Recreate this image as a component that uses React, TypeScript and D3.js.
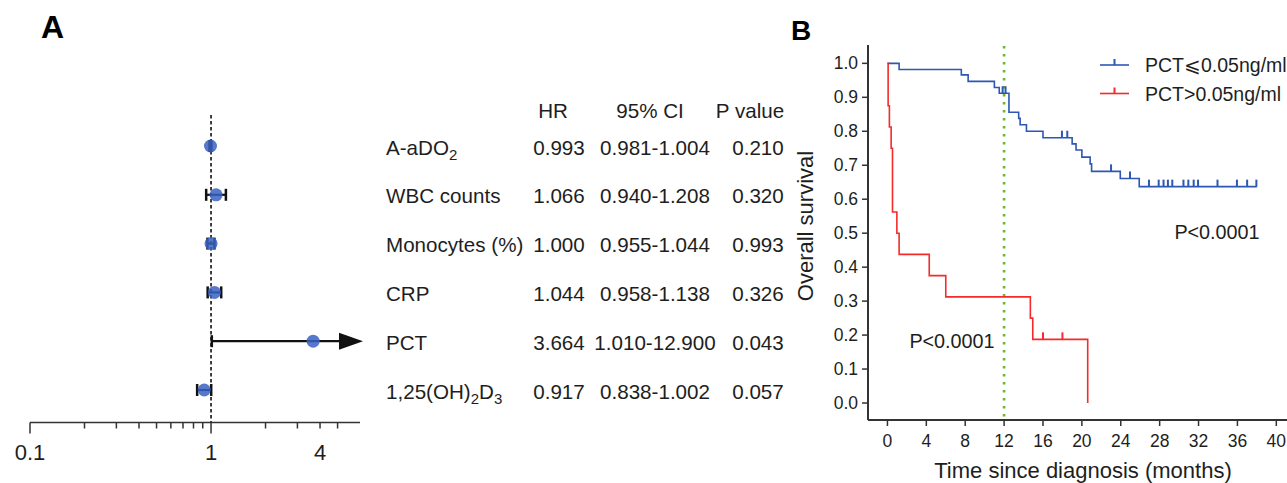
import * as d3 from "d3";

const FONT = "'Liberation Sans', Arial, sans-serif";

// ---- panel A: multivariate Cox forest plot ----
const factors = ["A-aDO_2", "WBC counts", "Monocytes (%)", "CRP", "PCT", "1,25(OH)_2D_3"];
const hr = [0.993, 1.066, 1.0, 1.044, 3.664, 0.917];
const ciLow = [0.981, 0.94, 0.955, 0.958, 1.01, 0.838];
const ciHigh = [1.004, 1.208, 1.044, 1.138, 12.9, 1.002];
const hrText = ["0.993", "1.066", "1.000", "1.044", "3.664", "0.917"];
const ciText = ["0.981-1.004", "0.940-1.208", "0.955-1.044", "0.958-1.138", "1.010-12.900", "0.838-1.002"];
const pText = ["0.210", "0.320", "0.993", "0.326", "0.043", "0.057"];
const tableHeads = ["HR", "95% CI", "P value"];
const forestTicks = [0.1, 0.2, 0.3, 0.4, 0.5, 0.6, 0.7, 0.8, 0.9, 1, 2, 3, 4, 5];
const forestMajor = [0.1, 1];
const forestLabels = [0.1, 1, 4];

// ---- panel B: Kaplan-Meier ----
const lowTime = [0, 1.2, 7.6, 8.3, 11.0, 11.5, 12.5, 13.5, 13.65, 14.3, 16.0, 19.0, 19.4, 20.0, 20.85, 21.0, 23.95, 25.9, 38.0];
const lowSurv = [1.0, 0.982, 0.966, 0.947, 0.929, 0.912, 0.856, 0.838, 0.819, 0.8, 0.781, 0.763, 0.745, 0.724, 0.704, 0.682, 0.661, 0.637, 0.637];
const lowCensor = [11.85, 12.15, 17.95, 18.5, 23.0, 24.95, 26.9, 27.9, 28.4, 28.85, 29.3, 30.45, 30.95, 31.5, 31.95, 33.95, 35.95, 37.0, 37.95];
const highTime = [0, 0.07, 0.2, 0.38, 0.52, 0.97, 1.2, 4.3, 6.0, 14.7, 14.95, 20.6];
const highSurv = [1.0, 0.875, 0.8125, 0.75, 0.5625, 0.5, 0.4375, 0.375, 0.3125, 0.25, 0.1875, 0];
const highCensor = [16.0, 18.0];
const kmXTicks = [0, 4, 8, 12, 16, 20, 24, 28, 32, 36, 40];
const kmYTicks = [0, 0.1, 0.2, 0.3, 0.4, 0.5, 0.6, 0.7, 0.8, 0.9, 1.0];
const legendNames = ["PCT\u2A7D0.05ng/ml", "PCT>0.05ng/ml"];
const cutoff = 12;

const BLUE = "#2d57b3";
const RED = "#f52a2a";
const INK = "#1e1e1e";

// label with "_x" meaning subscript x
const Label = ({ text, x, y }) => {
  const parts = text.split(/(_\d)/).filter((p) => p.length);
  return (
    <text x={x} y={y} fontSize={20.6} fill={INK} fontFamily={FONT}>
      {parts.map((p, i) =>
        p.startsWith("_") ? (
          <tspan key={i} dy={5} fontSize={15}>{p.slice(1)}</tspan>
        ) : (
          <tspan key={i} dy={i > 0 && parts[i - 1].startsWith("_") ? -5 : 0}>{p}</tspan>
        )
      )}
    </text>
  );
};

const Forest = () => {
  const x = d3.scaleLog().domain([0.1, 6.65]).range([30, 360]);
  const y = d3.scalePoint().domain(factors).range([146, 390]);
  const axisY = 422.5;
  const xEnd = x.range()[1];
  const cols = [559, 655, 758];
  return (
    <g>
      <text x={41} y={38} fontSize={32} fontWeight="bold" fontFamily={FONT}>A</text>
      <line x1={x(1)} x2={x(1)} y1={115} y2={axisY} stroke="#111" strokeWidth={1.6} strokeDasharray="3.5,2.5" />
      {/* axis */}
      <line x1={x(0.1)} x2={xEnd} y1={axisY} y2={axisY} stroke="#333" strokeWidth={1.5} />
      {forestTicks.map((t) => (
        <line key={t} x1={x(t)} x2={x(t)} y1={axisY} y2={axisY + (forestMajor.includes(t) ? 11 : 6)} stroke="#333" strokeWidth={1.5} />
      ))}
      {forestLabels.map((t) => (
        <text key={t} x={x(t)} y={460} textAnchor="middle" fontSize={22} fill={INK} fontFamily={FONT}>{t}</text>
      ))}
      {/* CIs */}
      {factors.map((f, i) => {
        const yy = y(f);
        const x0 = x(ciLow[i]);
        const off = ciHigh[i] > x.domain()[1];
        const x1 = off ? xEnd - 18 : x(ciHigh[i]);
        return (
          <g key={f}>
            <line x1={x0} x2={x1} y1={yy} y2={yy} stroke="#111" strokeWidth={2.2} />
            <line x1={x0} x2={x0} y1={yy - 6} y2={yy + 6} stroke="#111" strokeWidth={2.5} />
            {off ? (
              <path d={`M${x1 - 3},${yy - 8.5}L${xEnd + 3},${yy}L${x1 - 3},${yy + 8.5}Z`} fill="#111" />
            ) : (
              <line x1={x1} x2={x1} y1={yy - 6} y2={yy + 6} stroke="#111" strokeWidth={2.5} />
            )}
            <circle cx={x(hr[i])} cy={yy} r={6.5} fill="#3862c2" opacity={0.85} />
          </g>
        );
      })}
      {/* table */}
      {tableHeads.map((h, j) => (
        <text key={h} x={cols[j] - (j === 0 ? 6 : j === 1 ? 5 : 8)} y={118} textAnchor="middle" fontSize={20.6} fill={INK} fontFamily={FONT}>{h}</text>
      ))}
      {factors.map((f, i) => (
        <g key={f}>
          <Label text={f} x={386} y={y(f) + 8.5} />
          {[hrText[i], ciText[i], pText[i]].map((v, j) => (
            <text key={j} x={cols[j]} y={y(f) + 8.5} textAnchor="middle" fontSize={20.6} fill={INK} fontFamily={FONT}>{v}</text>
          ))}
        </g>
      ))}
    </g>
  );
};

const KM = () => {
  const x = d3.scaleLinear().domain([-2, 41.1]).range([868, 1287]);
  const y = d3.scaleLinear().domain([-0.05, 1.054]).range([420, 45]);
  const line = d3
    .line<number>()
    .x((d) => x(d[0]))
    .y((d) => y(d[1]))
    .curve(d3.curveStepAfter);
  const series = [
    { name: legendNames[0], t: lowTime, s: lowSurv, c: lowCensor, color: BLUE },
    { name: legendNames[1], t: highTime, s: highSurv, c: highCensor, color: RED },
  ];
  const survAt = (t: number[], s: number[], v: number) => s[Math.max(0, d3.bisectRight(t, v) - 1)];
  return (
    <g>
      <text x={791} y={40} fontSize={28} fontWeight="bold" fontFamily={FONT}>B</text>
      {/* cutoff */}
      <line x1={x(cutoff)} x2={x(cutoff)} y1={46} y2={418} stroke="#66bb2a" strokeWidth={2.6} strokeDasharray="2.4,5.6" />
      {series.map((sr) => (
        <g key={sr.name}>
          <path d={line(sr.t.map((t, i) => [t, sr.s[i]]))} fill="none" stroke={sr.color} strokeWidth={1.6} />
          {sr.c.map((c) => {
            const v = survAt(sr.t, sr.s, c);
            return <line key={c} x1={x(c)} x2={x(c)} y1={y(v)} y2={y(v) - 7} stroke={sr.color} strokeWidth={2} />;
          })}
        </g>
      ))}
      {/* axes */}
      <line x1={868} x2={868} y1={y.range()[1]} y2={y.range()[0]} stroke="#333" strokeWidth={2} />
      <line x1={868} x2={1287} y1={420} y2={420} stroke="#333" strokeWidth={2} />
      {kmYTicks.map((t) => (
        <g key={t}>
          <line x1={862} x2={868} y1={y(t)} y2={y(t)} stroke="#333" strokeWidth={1.5} />
          <text x={858} y={y(t) + 6} textAnchor="end" fontSize={17.5} fill={INK} fontFamily={FONT}>{t.toFixed(1)}</text>
        </g>
      ))}
      {kmXTicks.map((t) => (
        <g key={t}>
          <line x1={x(t)} x2={x(t)} y1={420} y2={426} stroke="#333" strokeWidth={1.5} />
          <text x={x(t)} y={447} textAnchor="middle" fontSize={17.5} fill={INK} fontFamily={FONT}>{t}</text>
        </g>
      ))}
      <text x={1083} y={478} textAnchor="middle" fontSize={22} fill={INK} fontFamily={FONT}>Time since diagnosis (months)</text>
      <text transform="translate(813,226) rotate(-90)" textAnchor="middle" fontSize={22} fill={INK} fontFamily={FONT}>Overall survival</text>
      <text x={1217} y={239} textAnchor="middle" fontSize={19.8} fill={INK} fontFamily={FONT}>P&lt;0.0001</text>
      <text x={952} y={348} textAnchor="middle" fontSize={19.8} fill={INK} fontFamily={FONT}>P&lt;0.0001</text>
      {/* legend */}
      {series.map((sr, i) => {
        const ly = 65 + i * 28.5;
        return (
          <g key={sr.name}>
            <line x1={1100} x2={1129} y1={ly} y2={ly} stroke={sr.color} strokeWidth={1.6} />
            <line x1={1114.5} x2={1114.5} y1={ly} y2={ly - 6} stroke={sr.color} strokeWidth={2} />
            <text x={1145} y={ly + 7} fontSize={19.5} fill={INK} fontFamily={FONT}>{sr.name}</text>
          </g>
        );
      })}
    </g>
  );
};

export default function App() {
  return (
    <svg width={1287} height={483} style={{ position: "absolute", left: 0, top: 0, background: "#fff" }}>
      <Forest />
      <KM />
    </svg>
  );
}
